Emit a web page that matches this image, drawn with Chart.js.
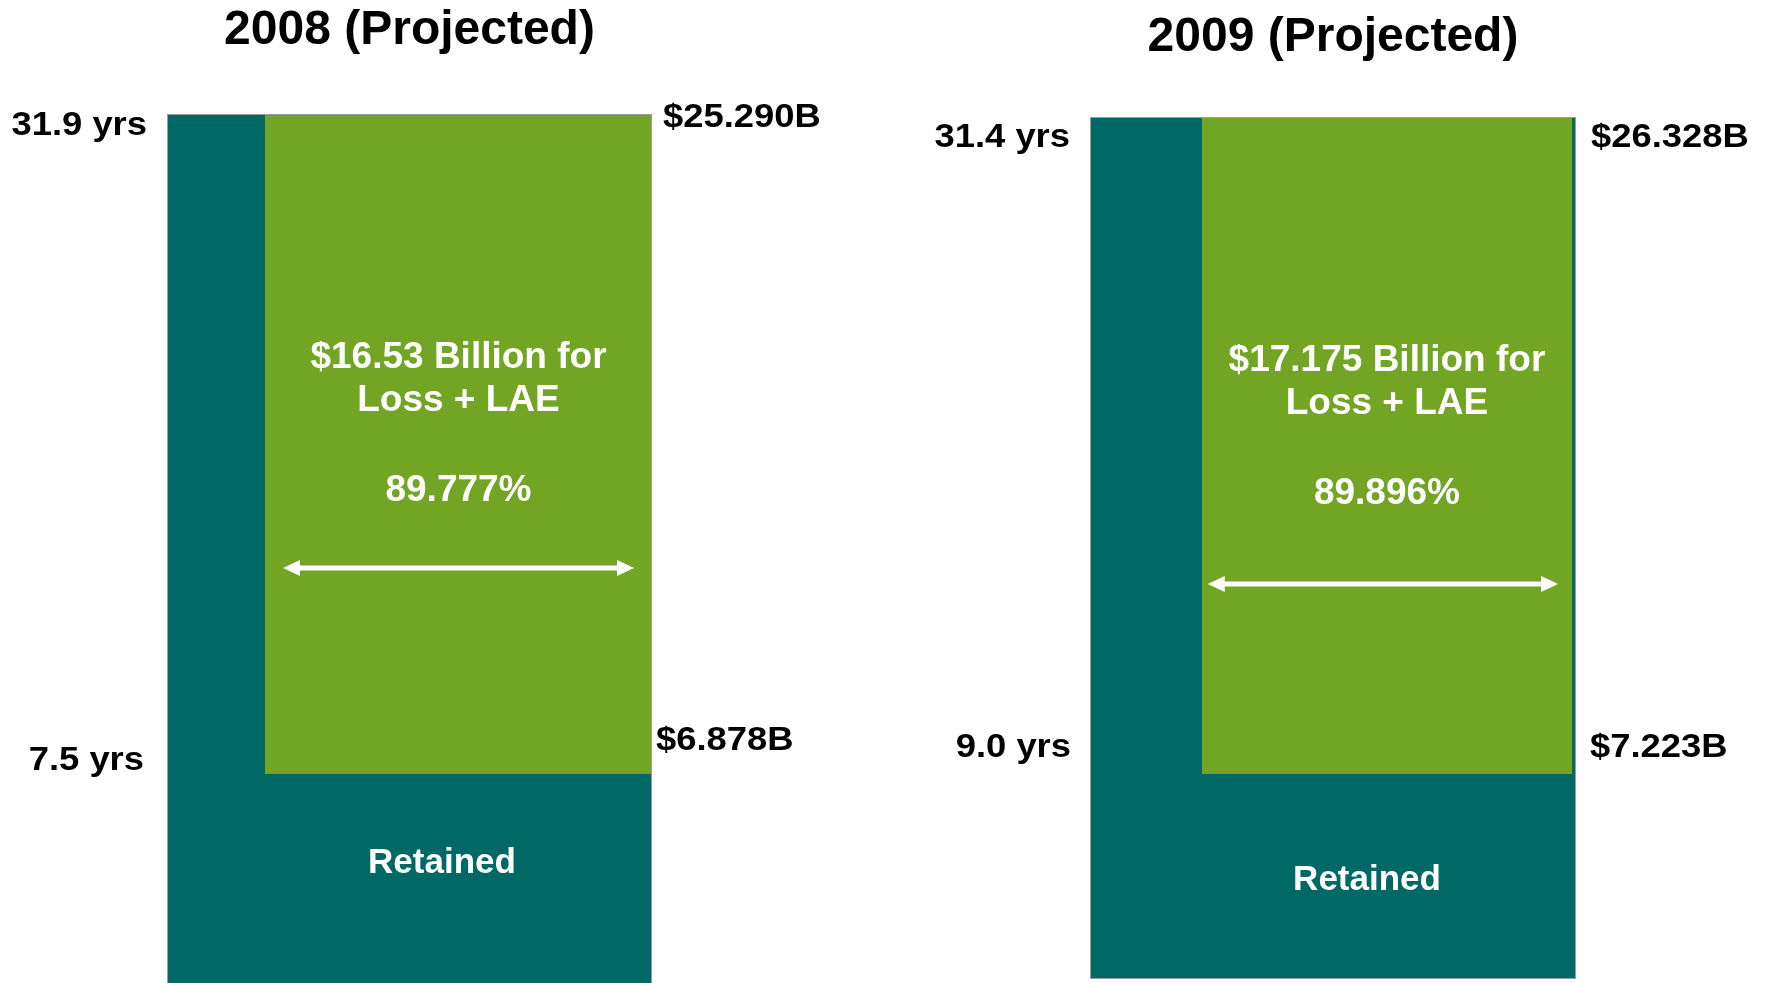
<!DOCTYPE html>
<html>
<head>
<meta charset="utf-8">
<title>Loss + LAE, 2008 / 2009 projected</title>
<script src="https://cdn.jsdelivr.net/npm/chart.js@4.4.1/dist/chart.umd.min.js"></script>
<style>
  html, body { margin: 0; padding: 0; background: #fff; overflow: hidden; }
  #wrap { position: relative; width: 1768px; height: 983px; overflow: hidden; }
  .panel { position: absolute; top: 0; }
</style>
</head>
<body>
<div id="wrap">
  <canvas id="chart2008" class="panel" width="884" height="1005" style="left:0"></canvas>
  <canvas id="chart2009" class="panel" width="884" height="983" style="left:884px"></canvas>
</div>
<script>
// ===== Data =====
const years = ['2008', '2009'];
const premiumTop = [25.290, 26.328];      // $B, top of the green block
const premiumRetained = [6.878, 7.223];   // $B, bottom of the green block
const durationTop = [31.9, 31.4];         // yrs
const durationBottom = [7.5, 9.0];        // yrs
const lossLae = [16.53, 17.175];          // $B for Loss + LAE
const lossRatio = [89.777, 89.896];       // %

// ===== Look =====
const TEAL = '#006966';
const GREEN = '#72a523';
const EDGE = '#9c9c9c';
const FAMILY = '"Liberation Sans", Arial, Helvetica, sans-serif';

// per-panel placement (box edges come from the layout padding)
const PANELS = [
    {
        id: 'chart2008', pad: { left: 167, right: 232, top: 0, bottom: 5 },
        titlePad: { top: 2, bottom: 54.4 }, yMin: 0.573, split: 0.202, greenEnd: 1,
        nudge: { tl: 21, tr: 13, bl: -4, br: -24 }, gap: { tl: 20, tr: 11, bl: 23, br: 4 },
        arrow: { dy: 454, l: 18, r: 18 }, retained: { x: 0.567, dy: 99 }
    },
    {
        id: 'chart2009', pad: { left: 206, right: 192, top: 0, bottom: 4 },
        titlePad: { top: 9.2, bottom: 50.2 }, yMin: 1.262, split: 0.230, greenEnd: 0.992,
        nudge: { tl: 30, tr: 30, bl: -17, br: -17 }, gap: { tl: 20, tr: 15, bl: 19, br: 14 },
        arrow: { dy: 467, l: 6, r: 14 }, retained: { x: 0.570, dy: 116 }
    }
];

function drawText(ctx, text, x, y, align, font, color, sx) {
    ctx.save();
    ctx.translate(x, y);
    ctx.scale(sx, 1);
    ctx.font = font;
    ctx.fillStyle = color;
    ctx.textAlign = align;
    ctx.textBaseline = 'alphabetic';
    ctx.fillText(text, 0, 0);
    ctx.restore();
}

function drawArrow(ctx, x1, x2, y) {
    const head = 17, half = 8;
    ctx.save();
    ctx.fillStyle = '#fff';
    ctx.strokeStyle = '#fff';
    ctx.lineWidth = 5;
    ctx.beginPath();
    ctx.moveTo(x1 + head - 2, y);
    ctx.lineTo(x2 - head + 2, y);
    ctx.stroke();
    ctx.beginPath();
    ctx.moveTo(x1, y);
    ctx.lineTo(x1 + head, y - half);
    ctx.lineTo(x1 + head, y + half);
    ctx.closePath();
    ctx.fill();
    ctx.beginPath();
    ctx.moveTo(x2, y);
    ctx.lineTo(x2 - head, y - half);
    ctx.lineTo(x2 - head, y + half);
    ctx.closePath();
    ctx.fill();
    ctx.restore();
}

// labels, arrow and captions placed off the chart scales
const slideText = {
    id: 'slideText',
    afterDatasetsDraw(chart, args, opts) {
        const i = opts.index;
        const p = PANELS[i];
        const { ctx } = chart;
        const { x, y } = chart.scales;
        const boxL = x.getPixelForValue(0), boxR = x.getPixelForValue(1);
        const gL = x.getPixelForValue(p.split), gR = x.getPixelForValue(p.greenEnd);
        const yTop = y.getPixelForValue(premiumTop[i]);
        const yBot = y.getPixelForValue(premiumRetained[i]);
        const side = 'bold 34px ' + FAMILY;
        const sx = 1.07;

        drawText(ctx, durationTop[i].toFixed(1) + ' yrs', boxL - p.gap.tl, yTop + p.nudge.tl, 'right', side, '#000', sx);
        drawText(ctx, '$' + premiumTop[i].toFixed(3) + 'B', boxR + p.gap.tr, yTop + p.nudge.tr, 'left', side, '#000', sx);
        drawText(ctx, durationBottom[i].toFixed(1) + ' yrs', boxL - p.gap.bl, yBot + p.nudge.bl, 'right', side, '#000', sx);
        drawText(ctx, '$' + premiumRetained[i].toFixed(3) + 'B', boxR + p.gap.br, yBot + p.nudge.br, 'left', side, '#000', sx);

        const mid = (gL + gR) / 2;
        const inner = 'bold 37px ' + FAMILY;
        drawText(ctx, '$' + lossLae[i] + ' Billion for', mid, yTop + 254, 'center', inner, '#fff', 1);
        drawText(ctx, 'Loss + LAE', mid, yTop + 297, 'center', inner, '#fff', 1);
        drawText(ctx, lossRatio[i].toFixed(3) + '%', mid, yTop + 387, 'center', inner, '#fff', 1);

        drawArrow(ctx, gL + p.arrow.l, gR - p.arrow.r, yTop + p.arrow.dy);

        const rx = x.getPixelForValue(p.retained.x);
        drawText(ctx, 'Retained', rx, yBot + p.retained.dy, 'center', 'bold 35px ' + FAMILY, '#fff', 1);
    }
};

function buildPanel(i) {
    const p = PANELS[i];
    const top = premiumTop[i];
    const bottom = premiumRetained[i];
    const flat = { showLine: true, borderWidth: 0, pointRadius: 0 };

    return new Chart(document.getElementById(p.id), {
        type: 'line',
        data: {
            datasets: [
                // box outline
                {
                    data: [
                        { x: 0, y: p.yMin }, { x: 0, y: top }, { x: 1, y: top },
                        { x: 1, y: p.yMin }, { x: 0, y: p.yMin }
                    ],
                    borderColor: EDGE, borderWidth: 2, pointRadius: 0, fill: false
                },
                // Loss + LAE block, filled down to the retained line
                { ...flat, data: [{ x: p.split, y: top }, { x: p.greenEnd, y: top }], fill: '+1', backgroundColor: GREEN },
                { ...flat, data: [{ x: p.split, y: bottom }, { x: p.greenEnd, y: bottom }], fill: false },
                // whole premium box
                { ...flat, data: [{ x: 0, y: top }, { x: 1, y: top }], fill: 'start', backgroundColor: TEAL }
            ]
        },
        options: {
            responsive: false,
            animation: false,
            events: [],
            layout: { padding: p.pad },
            elements: { line: { tension: 0 } },
            scales: {
                x: { type: 'linear', min: 0, max: 1, display: false },
                y: { type: 'linear', min: p.yMin, max: top, display: false }
            },
            plugins: {
                legend: { display: false },
                tooltip: { enabled: false },
                title: {
                    display: true,
                    text: years[i] + ' (Projected)',
                    color: '#000',
                    font: { family: FAMILY, size: 48, weight: 'bold' },
                    padding: p.titlePad
                },
                slideText: { index: i }
            }
        },
        plugins: [slideText]
    });
}

buildPanel(0);
buildPanel(1);
</script>
</body>
</html>
